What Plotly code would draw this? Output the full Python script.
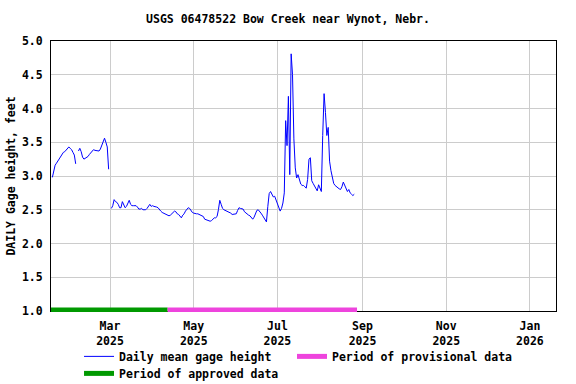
import pandas as pd
import plotly.graph_objects as go

# ---- data (daily mean gage height, feet) ----
start_date = "2025-01-18"
jan_values = [2.98, 3.08, 3.16, 3.19, 3.22, 3.24, 3.28, 3.31, 3.35, 3.36, 3.38, 3.41, 3.43, 3.41]
feb_values = [3.39, 3.35, 3.31, 3.18, None, 3.37, 3.41, 3.36, 3.28, 3.25, 3.26, 3.27, 3.29, 3.32,
              3.34, 3.37, 3.39, 3.38, 3.38, 3.37, 3.37, 3.40, 3.46, 3.52, 3.56, 3.50, 3.43, 3.10]
mar_values = [None, 2.52, 2.56, 2.65, 2.62, 2.61, 2.58, 2.53, 2.53, 2.62, 2.58, 2.53, 2.55, 2.60,
              2.64, 2.58, 2.56, 2.56, 2.56, 2.56, 2.54, 2.51, 2.51, 2.52, 2.50, 2.50, 2.50, 2.52,
              2.55, 2.58, 2.55]
apr_values = [2.56, 2.55, 2.55, 2.54, 2.53, 2.50, 2.48, 2.46, 2.45, 2.45, 2.44, 2.43, 2.41, 2.42,
              2.44, 2.46, 2.48, 2.47, 2.44, 2.43, 2.40, 2.38, 2.42, 2.44, 2.48, 2.51, 2.53, 2.52,
              2.48, 2.46]
may_values = [2.45, 2.44, 2.44, 2.44, 2.43, 2.42, 2.41, 2.40, 2.36, 2.35, 2.35, 2.34, 2.33, 2.34,
              2.36, 2.38, 2.38, 2.40, 2.50, 2.64, 2.58, 2.52, 2.50, 2.49, 2.48, 2.47, 2.47, 2.45,
              2.43, 2.43, 2.43]
jun_values = [2.44, 2.49, 2.53, 2.52, 2.51, 2.51, 2.47, 2.45, 2.44, 2.42, 2.41, 2.38, 2.36, 2.39,
              2.45, 2.49, 2.50, 2.48, 2.45, 2.42, 2.38, 2.34, 2.32, 2.55, 2.74, 2.77, 2.73, 2.69,
              2.70, 2.64]
jul_values = [2.57, 2.52, 2.48, 2.52, 2.60, 2.75, 3.82, 3.45, 4.18, 3.02, 4.81, 4.50, 3.55, 3.12,
              2.97, 3.02, 2.95, 2.88, 2.86, 2.86, 2.84, 2.82, 2.95, 3.25, 3.27, 2.93, 2.89, 2.85,
              2.80, 2.78, 2.87]
aug_values = [2.80, 2.77, 3.60, 4.22, 3.94, 3.60, 3.72, 3.22, 3.08, 2.95, 2.89, 2.86, 2.84, 2.82,
              2.81, 2.80, 2.84, 2.91, 2.87, 2.81, 2.77, 2.80, 2.75, 2.73, 2.71, 2.73]

approved_period = ["2025-01-10", "2025-04-12"]
provisional_period = ["2025-04-12", "2025-08-28"]

x_range = ["2025-01-17", "2026-01-20"]
tick_dates = ["2025-03-01", "2025-05-01", "2025-07-01", "2025-09-01", "2025-11-01", "2026-01-01"]
tick_labels = ["Mar<br>2025", "May<br>2025", "Jul<br>2025", "Sep<br>2025", "Nov<br>2025", "Jan<br>2026"]
y_ticks = [1.0, 1.5, 2.0, 2.5, 3.0, 3.5, 4.0, 4.5, 5.0]

values = jan_values + feb_values + mar_values + apr_values + may_values + jun_values + jul_values + aug_values
dates = pd.date_range(start_date, periods=len(values), freq="D")

FONT = "DejaVu Sans Mono"
BLUE = "#0000ff"
GREEN = "#009900"
PINK = "#ee44dd"
TXT = dict(family=FONT, size=11.5, color="black", weight="bold")

fig = go.Figure()
fig.add_trace(go.Scatter(x=dates, y=values, mode="lines", name="Daily mean gage height",
                         line=dict(color=BLUE, width=1), connectgaps=False, legend="legend"))
fig.add_trace(go.Scatter(x=[None], y=[None], mode="lines", name="Period of provisional data",
                         line=dict(color=PINK, width=5), legend="legend2"))
fig.add_trace(go.Scatter(x=[None], y=[None], mode="lines", name="Period of approved data",
                         line=dict(color=GREEN, width=5), legend="legend3"))

for period, color in [(approved_period, GREEN), (provisional_period, PINK)]:
    fig.add_shape(type="rect", xref="x", yref="paper", x0=period[0], x1=period[1],
                  y0=-0.004, y1=0.013, fillcolor=color, line=dict(width=0), layer="above")

row1_y = -0.1144
row2_y = row1_y - 17 / 270
leg_common = dict(orientation="v", xanchor="left", yanchor="top", font=TXT,
                  bgcolor="rgba(0,0,0,0)")

fig.update_layout(
    width=576, height=384,
    margin=dict(l=51, r=20, t=41, b=73, autoexpand=False),
    paper_bgcolor="white", plot_bgcolor="white",
    font=TXT,
    title=dict(text="USGS 06478522 Bow Creek near Wynot, Nebr.", x=0.5, xanchor="center",
               y=1 - 19 / 384, yanchor="middle", font=TXT),
    showlegend=True,
    legend=dict(x=0.0555, y=row1_y, **leg_common),
    legend2=dict(x=0.4772, y=row1_y, **leg_common),
    legend3=dict(x=0.0555, y=row2_y, **leg_common),
)
fig.update_xaxes(range=x_range, tickvals=tick_dates, ticktext=tick_labels,
                 showgrid=True, gridcolor="#cccccc", gridwidth=1,
                 showline=True, linecolor="black", linewidth=1, mirror=True,
                 ticks="", ticklabelstandoff=4, zeroline=False, automargin=False)
fig.update_yaxes(range=[1.0, 5.0], tickvals=y_ticks, tickformat=".1f",
                 showgrid=True, gridcolor="#cccccc", gridwidth=1,
                 showline=True, linecolor="black", linewidth=1, mirror=True,
                 ticks="", ticklabelstandoff=5, zeroline=False, automargin=False,
                 title=dict(text="DAILY Gage height, feet", standoff=3, font=TXT))

fig.write_html("out.html")
